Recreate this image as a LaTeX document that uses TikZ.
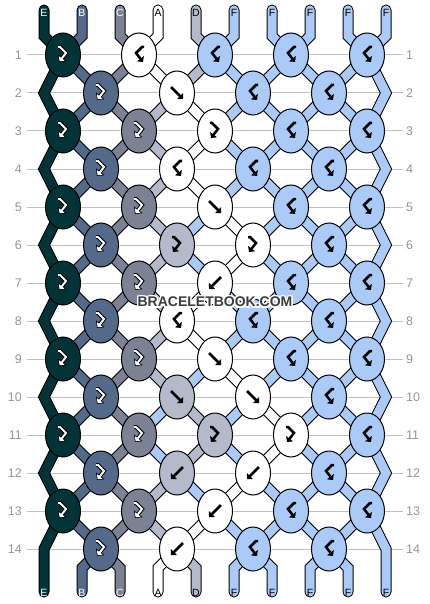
\documentclass[tikz,border=0pt]{standalone}
\usepackage{fontspec}
\setmainfont{Liberation Sans}
\usetikzlibrary{arrows.meta,shapes.geometric}
\pgfdeclarelayer{bg}
\pgfdeclarelayer{str}
\pgfsetlayers{bg,str,main}
\definecolor{cE}{RGB}{2,52,55}
\definecolor{cB}{RGB}{84,106,139}
\definecolor{cC}{RGB}{124,130,147}
\definecolor{cA}{RGB}{255,255,255}
\definecolor{cD}{RGB}{180,186,201}
\definecolor{cF}{RGB}{170,202,247}
\definecolor{rowline}{RGB}{192,192,192}
\definecolor{rowtext}{RGB}{150,150,150}
\definecolor{wmtext}{RGB}{60,60,60}
\tikzset{
 knot/.style={ellipse,draw=black,line width=1pt,minimum width=35pt,minimum height=44pt,inner sep=0pt},
 sout/.style={draw=black,line width=11pt,line cap=round,line join=miter},
 sin/.style={line width=9pt,line cap=round,line join=miter},
 gout/.style={draw=black,line width=4pt,line join=miter,-{Triangle[angle=90:7.5pt]}},
 gin/.style={draw=white,line width=2pt,line join=miter,-{Triangle[angle=90:5pt]},shorten >=1pt},
 gblk/.style={draw=black,line width=2.5pt,line join=miter,-{Triangle[angle=90:6pt]}},
 pics/gf/.style={code={\draw[pic actions] (-6,-6) -- (6,6);}},
 pics/gb/.style={code={\draw[pic actions] (6,-6) -- (-6,6);}},
 pics/gfb/.style={code={\draw[pic actions] (-5,-8) -- (-3,-8) -- (3,-2) -- (-4,7);}},
 pics/gbf/.style={code={\draw[pic actions] (5,-8) -- (3,-8) -- (-3,-2) -- (4,7);}},
 rowlab/.style={text=rowtext,font=\fontsize{12.5}{13}\selectfont,inner sep=0pt},
 letter/.style={font=\fontsize{10.5}{10.5}\selectfont,inner sep=0pt},
 wm/.style={font=\fontsize{14}{14}\selectfont\bfseries,inner sep=0pt},
}
\newcommand\kd[4]{\node[knot,fill=c#3] (k#1x#2) at (#2,{55+38*(#1-1)}) {};
 \pic[gout] at (k#1x#2.center) {g#4}; \pic[gin] at (k#1x#2.center) {g#4};}
\newcommand\kl[4]{\node[knot,fill=c#3] (k#1x#2) at (#2,{55+38*(#1-1)}) {};
 \pic[gblk] at (k#1x#2.center) {g#4};}
\newcommand\bbstrands[1]{%
\draw[cE,#1] (t1)--(tb1)--(k1x63.center)--(le2)--(k3x63.center)--(le4)--(k5x63.center)--(le6)--(k7x63.center)--(le8)--(k9x63.center)--(le10)--(k11x63.center)--(le12)--(k13x63.center)--(le14)--(bb1)--(be1);
\draw[cB,#1] (t2)--(tb2)--(k1x63.center)--(k2x101.center)--(k3x63.center)--(k4x101.center)--(k5x63.center)--(k6x101.center)--(k7x63.center)--(k8x101.center)--(k9x63.center)--(k10x101.center)--(k11x63.center)--(k12x101.center)--(k13x63.center)--(k14x101.center)--(bb2)--(be2);
\draw[cC,#1] (t3)--(tb3)--(k1x139.center)--(k2x101.center)--(k3x139.center)--(k4x101.center)--(k5x139.center)--(k6x101.center)--(k7x139.center)--(k8x101.center)--(k9x139.center)--(k10x101.center)--(k11x139.center)--(k12x101.center)--(k13x139.center)--(k14x101.center)--(bb3)--(be3);
\draw[cA,#1] (t4)--(tb4)--(k1x139.center)--(k2x177.center)--(k3x215.center)--(k4x177.center)--(k5x215.center)--(k6x253.center)--(k7x215.center)--(k8x177.center)--(k9x215.center)--(k10x253.center)--(k11x291.center)--(k12x253.center)--(k13x215.center)--(k14x177.center)--(bb4)--(be4);
\draw[cD,#1] (t5)--(tb5)--(k1x215.center)--(k2x177.center)--(k3x139.center)--(k4x177.center)--(k5x139.center)--(k6x177.center)--(k7x139.center)--(k8x177.center)--(k9x139.center)--(k10x177.center)--(k11x215.center)--(k12x177.center)--(k13x139.center)--(k14x177.center)--(bb5)--(be5);
\draw[cF,#1] (t6)--(tb6)--(k1x215.center)--(k2x253.center)--(k3x215.center)--(k4x253.center)--(k5x215.center)--(k6x177.center)--(k7x215.center)--(k8x253.center)--(k9x215.center)--(k10x177.center)--(k11x139.center)--(k12x177.center)--(k13x215.center)--(k14x253.center)--(bb6)--(be6);
\draw[cF,#1] (t7)--(tb7)--(k1x291.center)--(k2x253.center)--(k3x291.center)--(k4x253.center)--(k5x291.center)--(k6x253.center)--(k7x291.center)--(k8x253.center)--(k9x291.center)--(k10x253.center)--(k11x215.center)--(k12x253.center)--(k13x291.center)--(k14x253.center)--(bb7)--(be7);
\draw[cF,#1] (t8)--(tb8)--(k1x291.center)--(k2x329.center)--(k3x291.center)--(k4x329.center)--(k5x291.center)--(k6x329.center)--(k7x291.center)--(k8x329.center)--(k9x291.center)--(k10x329.center)--(k11x291.center)--(k12x329.center)--(k13x291.center)--(k14x329.center)--(bb8)--(be8);
\draw[cF,#1] (t9)--(tb9)--(k1x367.center)--(k2x329.center)--(k3x367.center)--(k4x329.center)--(k5x367.center)--(k6x329.center)--(k7x367.center)--(k8x329.center)--(k9x367.center)--(k10x329.center)--(k11x367.center)--(k12x329.center)--(k13x367.center)--(k14x329.center)--(bb9)--(be9);
\draw[cF,#1] (t10)--(tb10)--(k1x367.center)--(re2)--(k3x367.center)--(re4)--(k5x367.center)--(re6)--(k7x367.center)--(re8)--(k9x367.center)--(re10)--(k11x367.center)--(re12)--(k13x367.center)--(re14)--(bb10)--(be10);
}
\begin{document}
\begin{tikzpicture}[x=1pt,y=-1pt]
\useasboundingbox (0,0) rectangle (430,604);
\begin{pgfonlayer}{bg}
\fill[white] (0,0) rectangle (430,604);
\foreach \r in {1,...,14} {
 \coordinate (rl\r) at (27,{55+38*(\r-1)});
 \coordinate (rr\r) at (403,{55+38*(\r-1)});
 \draw[rowline,line width=1pt] (rl\r) -- (rr\r);
 \node[rowlab,anchor=east] (ln\r) at (22,{55+38*(\r-1)}) {\r};
 \node[rowlab,anchor=west] (rn\r) at (406,{55+38*(\r-1)}) {\r};
}
\end{pgfonlayer}
\foreach \i in {1,...,10} {
 \coordinate (t\i) at ({44+38*(\i-1)},10);
 \coordinate (tb\i) at ({44+38*(\i-1)},36);
 \coordinate (bb\i) at ({44+38*(\i-1)},568);
 \coordinate (be\i) at ({44+38*(\i-1)},592);
}
\foreach \r in {2,4,...,14} {
 \coordinate (le\r) at (44,{55+38*(\r-1)});
 \coordinate (re\r) at (386,{55+38*(\r-1)});
}
% knots
\kd{1}{63}{E}{fb} \kl{1}{139}{A}{bf} \kl{1}{215}{F}{bf} \kl{1}{291}{F}{bf} \kl{1}{367}{F}{bf}
\kd{2}{101}{B}{fb} \kl{2}{177}{A}{f} \kl{2}{253}{F}{bf} \kl{2}{329}{F}{bf}
\kd{3}{63}{E}{fb} \kd{3}{139}{C}{fb} \kl{3}{215}{A}{fb} \kl{3}{291}{F}{bf} \kl{3}{367}{F}{bf}
\kd{4}{101}{B}{fb} \kl{4}{177}{A}{bf} \kl{4}{253}{F}{bf} \kl{4}{329}{F}{bf}
\kd{5}{63}{E}{fb} \kd{5}{139}{C}{fb} \kl{5}{215}{A}{f} \kl{5}{291}{F}{bf} \kl{5}{367}{F}{bf}
\kd{6}{101}{B}{fb} \kl{6}{177}{D}{fb} \kl{6}{253}{A}{fb} \kl{6}{329}{F}{bf}
\kd{7}{63}{E}{fb} \kd{7}{139}{C}{fb} \kl{7}{215}{A}{b} \kl{7}{291}{F}{bf} \kl{7}{367}{F}{bf}
\kd{8}{101}{B}{fb} \kl{8}{177}{A}{bf} \kl{8}{253}{F}{bf} \kl{8}{329}{F}{bf}
\kd{9}{63}{E}{fb} \kd{9}{139}{C}{fb} \kl{9}{215}{A}{f} \kl{9}{291}{F}{bf} \kl{9}{367}{F}{bf}
\kd{10}{101}{B}{fb} \kl{10}{177}{D}{f} \kl{10}{253}{A}{f} \kl{10}{329}{F}{bf}
\kd{11}{63}{E}{fb} \kd{11}{139}{C}{fb} \kl{11}{215}{D}{fb} \kl{11}{291}{A}{fb} \kl{11}{367}{F}{bf}
\kd{12}{101}{B}{fb} \kl{12}{177}{D}{b} \kl{12}{253}{A}{b} \kl{12}{329}{F}{bf}
\kd{13}{63}{E}{fb} \kd{13}{139}{C}{fb} \kl{13}{215}{A}{b} \kl{13}{291}{F}{bf} \kl{13}{367}{F}{bf}
\kd{14}{101}{B}{fb} \kl{14}{177}{A}{b} \kl{14}{253}{F}{bf} \kl{14}{329}{F}{bf}
\begin{pgfonlayer}{str}
\bbstrands{sout}
\bbstrands{sin}
\end{pgfonlayer}
% strand letters
\foreach \i/\L/\col in {1/E/white,2/B/white,3/C/white,4/A/black,5/D/black,6/F/black,7/F/black,8/F/black,9/F/black,10/F/black} {
 \node[letter,text=\col] (lt\i) at ({44+38*(\i-1)},13) {\L};
}
\foreach \i/\L/\col in {1/E/white,2/B/white,3/C/white,4/A/black,5/D/black,6/F/black,7/F/black,8/F/black,9/F/black,10/F/black} {
 \node[letter,text=\col] (lb\i) at ({44+38*(\i-1)},593) {\L};
}
% watermark
\foreach \dx/\dy [count=\n] in {-1/-1,0/-1,1/-1,-1/0,1/0,-1/1,0/1,1/1} {
 \node[wm,text=white] (wmh\n) at ({215+1.2*\dx},{302+1.2*\dy}) {BRACELETBOOK.COM};
}
\node[wm,text=wmtext] (wm) at (215,302) {BRACELETBOOK.COM};
\end{tikzpicture}
\end{document}
